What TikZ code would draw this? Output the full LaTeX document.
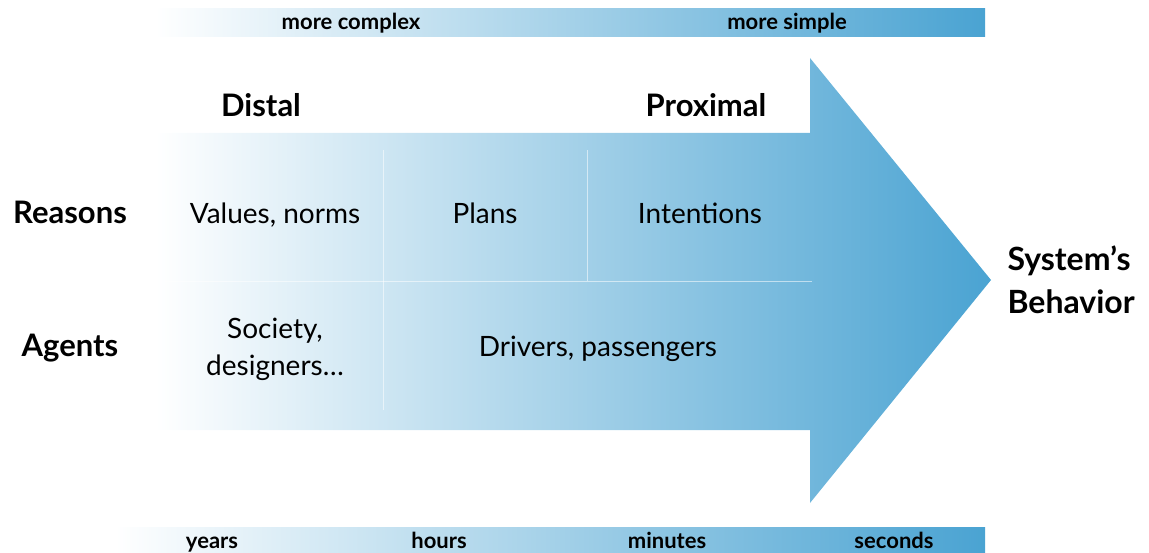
\documentclass[tikz,border=0pt]{standalone}
\usepackage{fontspec}
\setmainfont{Lato}
\definecolor{arrowblue}{RGB}{74,163,210}
\begin{document}
\begin{tikzpicture}[x=1pt,y=-1pt,
  barshade/.style={left color=white,right color=arrowblue},
  bartext/.style={anchor=base,font=\fontsize{22}{26}\selectfont\bfseries},
  headtext/.style={anchor=base,font=\fontsize{31}{36}\selectfont\bfseries},
  celltext/.style={anchor=base,font=\fontsize{28}{37}\selectfont,align=center},
  gridline/.style={draw=white,draw opacity=0.55,line width=0.8pt}]
\useasboundingbox (0,0) rectangle (1149,553);
% bars
\shade[barshade] (155,9) rectangle (985,37);
\shade[barshade] (115,527) rectangle (985,553);
% arrow
\shade[barshade] (155,133) -- (810,133) -- (810,58) -- (991,280) -- (810,503) -- (810,430) -- (155,430) -- cycle;
% grid
\draw[gridline] (165,281) -- (812,281);
\draw[gridline] (383,150) -- (383,410);
\draw[gridline] (587,150) -- (587,281);
% bar texts
\node[bartext] (complex) at (351,30) {more complex};
\node[bartext] (simple) at (787,30) {more simple};
\node[bartext] (years) at (212,548) {years};
\node[bartext] (hours) at (439,548) {hours};
\node[bartext] (minutes) at (667,548) {minutes};
\node[bartext] (seconds) at (894,548) {seconds};
% headings
\node[headtext] (distal) at (261,117) {Distal};
\node[headtext] (proximal) at (706,117) {Proximal};
\node[headtext] (reasons) at (70,224) {Reasons};
\node[headtext] (agents) at (70,357) {Agents};
% cells
\node[celltext] (values) at (275,224) {Values, norms};
\node[celltext] (plans) at (485,224) {Plans};
\node[celltext] (intentions) at (700,224) {Intentions};
\node[celltext,anchor=south] (society) at (275,384) {Society,\\designers\ldots};
\node[celltext] (drivers) at (598,357) {Drivers, passengers};
% result
\node[anchor=west,align=left,font=\fontsize{32}{43}\selectfont\bfseries] (system) at (1004,280) {System’s\\Behavior};
\end{tikzpicture}
\end{document}
